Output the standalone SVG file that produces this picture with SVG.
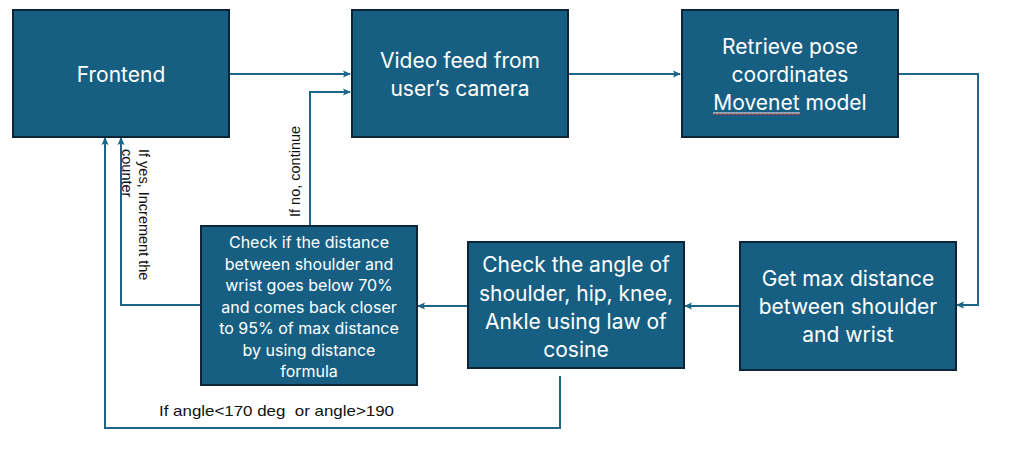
<svg xmlns="http://www.w3.org/2000/svg" width="1015" height="468" viewBox="0 0 1015 468">
<style>
.box{fill:#175F82;stroke:#0C2637;stroke-width:2}
.t{fill:#fff;font-family:Inter,"Open Sans","Liberation Sans",sans-serif;font-size:21px;text-anchor:middle;dominant-baseline:central}
.s{font-size:16px}
.c{fill:none;stroke:#1D6689;stroke-width:2}
.l{fill:#111;font-family:"Liberation Sans",Arial,sans-serif;font-size:14.5px;white-space:pre}
</style>
<defs>
<marker id="a" viewBox="0 0 8 8" refX="7" refY="4" markerWidth="8" markerHeight="8" markerUnits="userSpaceOnUse" orient="auto">
<path d="M0,0.5 L8,4 L0,7.5 L1.5,4 Z" fill="#1D6689"/>
</marker>
</defs>
<rect width="1015" height="468" fill="#fff"/>
<g id="connectors">
<path class="c" d="M229,74 H350" marker-end="url(#a)"/>
<path class="c" d="M310,226 V92 H350" marker-end="url(#a)"/>
<path class="c" d="M568,74 H680" marker-end="url(#a)"/>
<path class="c" d="M898,74 H978 V305 H957" marker-end="url(#a)"/>
<path class="c" d="M740,306 H685" marker-end="url(#a)"/>
<path class="c" d="M467,306 H418" marker-end="url(#a)"/>
<path class="c" d="M201,305 H121 V138" marker-end="url(#a)"/>
<path class="c" d="M560,376 V428 H105 V138" marker-end="url(#a)"/>
<text class="l" transform="translate(300,217) rotate(-90)" font-size="15">If no, continue</text>
<text class="l" transform="translate(139,149) rotate(90)">If yes, Increment the</text>
<text class="l" transform="translate(122,149) rotate(90)">counter</text>
<text class="l" x="159" y="416" font-size="16.5" textLength="235" lengthAdjust="spacingAndGlyphs" xml:space="preserve">If angle&lt;170 deg  or angle&gt;190</text>
</g>
<g id="frontend">
<rect class="box" x="13" y="10" width="216" height="127"/>
<text class="t" x="121" y="74">Frontend</text>
</g>
<g id="video">
<rect class="box" x="352" y="10" width="216" height="127"/>
<text class="t" x="460" y="60">Video feed from</text>
<text class="t" x="460" y="88">user’s camera</text>
</g>
<g id="retrieve">
<rect class="box" x="682" y="10" width="216" height="127"/>
<text class="t" x="790" y="46">Retrieve pose</text>
<text class="t" x="790" y="74">coordinates</text>
<text class="t" x="790" y="102">Movenet model</text>
<path d="M713,113 H800" stroke="#fff" stroke-width="1"/>
<path d="M713,115 l2,-1.5 l2,1.5 l2,-1.5 l2,1.5 l2,-1.5 l2,1.5 l2,-1.5 l2,1.5 l2,-1.5 l2,1.5 l2,-1.5 l2,1.5 l2,-1.5 l2,1.5 l2,-1.5 l2,1.5 l2,-1.5 l2,1.5 l2,-1.5 l2,1.5 l2,-1.5 l2,1.5 l2,-1.5 l2,1.5 l2,-1.5 l2,1.5 l2,-1.5 l2,1.5 l2,-1.5 l2,1.5 l2,-1.5 l2,1.5 l2,-1.5 l2,1.5 l2,-1.5 l2,1.5 l2,-1.5 l2,1.5 l2,-1.5 l2,1.5 l2,-1.5 l2,1.5 l2,-1.5 l2,1.5" fill="none" stroke="#e0312b" stroke-width="0.8"/>
</g>
<g id="getmax">
<rect class="box" x="740" y="242" width="216" height="128"/>
<text class="t" x="848" y="278">Get max distance</text>
<text class="t" x="848" y="306">between shoulder</text>
<text class="t" x="848" y="334">and wrist</text>
</g>
<g id="angle">
<rect class="box" x="468" y="242" width="216" height="126"/>
<text class="t" x="576" y="264">Check the angle of</text>
<text class="t" x="576" y="293">shoulder, hip, knee,</text>
<text class="t" x="576" y="321">Ankle using law of</text>
<text class="t" x="576" y="349">cosine</text>
</g>
<g id="distance">
<rect class="box" x="201" y="226" width="216" height="159"/>
<text class="t s" x="309" y="242">Check if the distance</text>
<text class="t s" x="309" y="263.5">between shoulder and</text>
<text class="t s" x="309" y="285">wrist goes below 70%</text>
<text class="t s" x="309" y="306.5">and comes back closer</text>
<text class="t s" x="309" y="328">to 95% of max distance</text>
<text class="t s" x="309" y="349.5">by using distance</text>
<text class="t s" x="309" y="371">formula</text>
</g>
</svg>
